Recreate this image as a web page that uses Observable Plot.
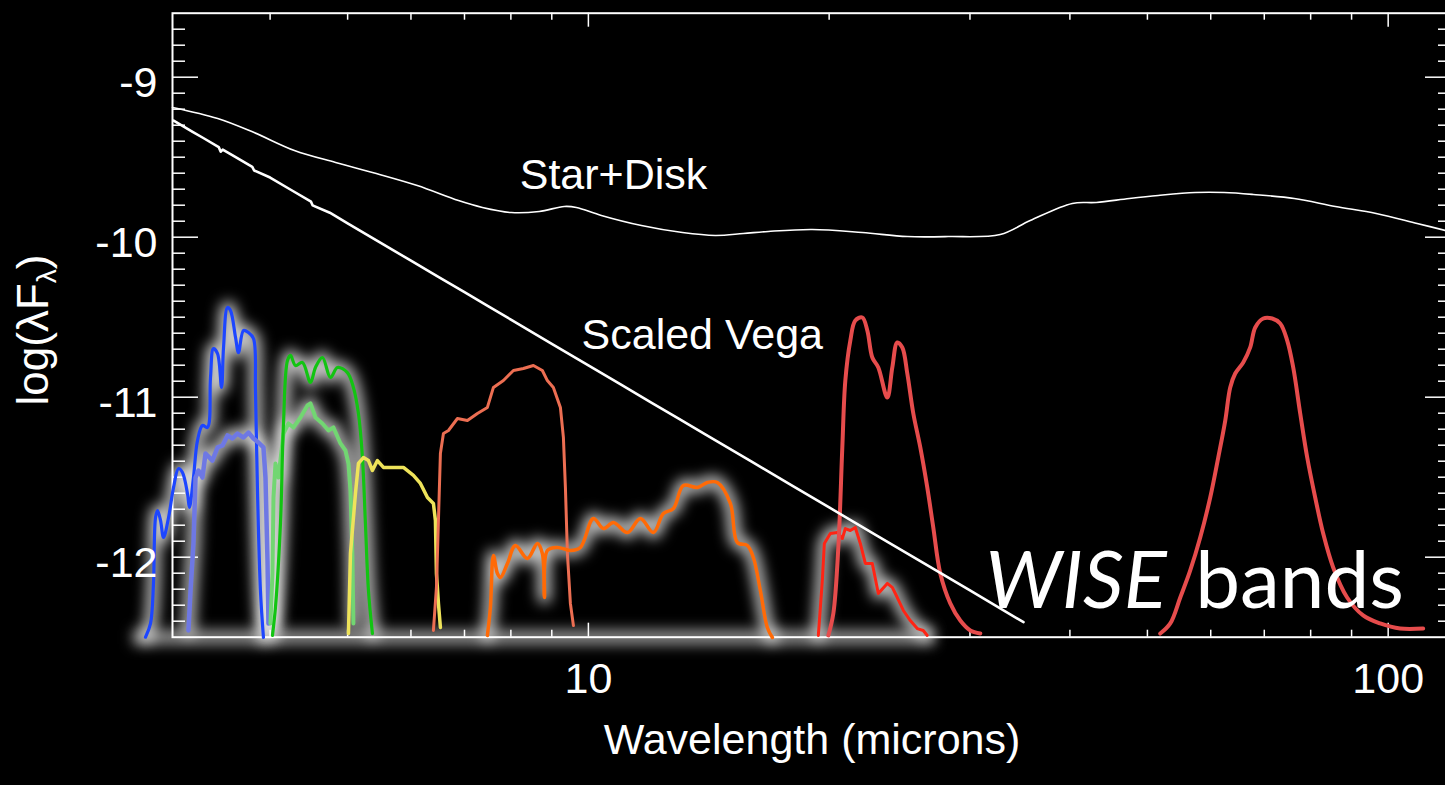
<!DOCTYPE html>
<html>
<head>
<meta charset="utf-8">
<script src="https://cdn.jsdelivr.net/npm/d3@7"></script>
<script src="https://cdn.jsdelivr.net/npm/@observablehq/plot@0.6"></script>
<style>
  html, body { margin: 0; padding: 0; background: #000; overflow: hidden; }
  #chart svg { display: block; }
</style>
</head>
<body>
<div id="chart"></div>
<script>
// ---- Axis ticks ----
const xTickLabels = [10, 100];
const xMinorTicks = [4, 5, 6, 7, 8, 9, 20, 30, 40, 50, 60, 70, 80, 90];
const yTickLabels = [-9, -10, -11, -12];

// ---- Model spectra: wavelength (microns) and log(lambda F_lambda) ----
const starDiskWave = [3.02, 3.44, 3.82, 4.29, 4.83, 5.43, 6.11, 6.88, 7.37, 8.01, 8.68, 9.33, 9.66, 10.38, 11.65, 13.11, 14.41, 15.62, 16.79, 19.05, 22.0, 25.05, 28.18, 32.73, 35.68, 40.27, 43.15, 47.46, 51.58, 57.38, 62.37, 67.8, 76.3, 85.9, 96.6, 108.7, 119.5];
const starDiskFlux = [-9.189, -9.258, -9.346, -9.458, -9.533, -9.602, -9.677, -9.771, -9.814, -9.846, -9.839, -9.808, -9.814, -9.864, -9.927, -9.971, -9.989, -9.977, -9.964, -9.952, -9.971, -9.996, -9.996, -9.983, -9.896, -9.789, -9.783, -9.758, -9.739, -9.721, -9.721, -9.733, -9.758, -9.808, -9.852, -9.914, -9.965];

const vegaWave = [3.03, 3.2, 3.3, 3.45, 3.47, 3.49, 3.6, 3.8, 3.82, 4.0, 4.25, 4.5, 4.52, 4.75, 5.0, 5.5, 6.0, 6.5, 7.0, 7.5, 8.0, 9.0, 10, 11, 12, 13, 14, 16, 18, 20, 23, 26, 30, 35];
const vegaFlux = [-9.271, -9.341, -9.380, -9.437, -9.466, -9.452, -9.492, -9.561, -9.583, -9.627, -9.705, -9.778, -9.801, -9.847, -9.913, -10.035, -10.147, -10.249, -10.344, -10.432, -10.515, -10.666, -10.801, -10.923, -11.035, -11.137, -11.232, -11.403, -11.554, -11.689, -11.868, -12.025, -12.208, -12.406];

// ---- WISE / filter band response curves ----
const blueWave = [2.794, 2.835, 2.859, 2.876, 2.893, 2.918, 2.943, 2.986, 3.029, 3.073, 3.108, 3.153, 3.171, 3.208, 3.245, 3.292, 3.340, 3.369, 3.398, 3.438, 3.478, 3.498, 3.538, 3.569, 3.621, 3.652, 3.705, 3.758, 3.813, 3.835, 3.857, 3.890, 3.924];
const blueFlux = [-12.50, -12.414, -12.164, -11.752, -11.708, -11.771, -11.877, -11.752, -11.564, -11.446, -11.471, -11.602, -11.689, -11.502, -11.271, -11.177, -11.189, -10.877, -10.696, -10.727, -10.939, -10.689, -10.439, -10.458, -10.627, -10.721, -10.583, -10.596, -10.633, -10.958, -11.583, -12.208, -12.502];

const paleBlueWave = [3.162, 3.181, 3.208, 3.227, 3.255, 3.292, 3.321, 3.388, 3.438, 3.488, 3.538, 3.589, 3.641, 3.705, 3.758, 3.813, 3.868, 3.924, 3.947, 3.970, 3.981];
const paleBlueFlux = [-12.458, -12.208, -11.914, -11.502, -11.458, -11.502, -11.352, -11.396, -11.314, -11.302, -11.239, -11.258, -11.227, -11.252, -11.221, -11.258, -11.283, -11.314, -11.502, -12.021, -12.414];

const greenWave = [4.027, 4.062, 4.121, 4.157, 4.205, 4.242, 4.303, 4.390, 4.493, 4.558, 4.650, 4.759, 4.856, 4.997, 5.084, 5.158, 5.218, 5.263, 5.309, 5.370];
const greenFlux = [-12.489, -12.314, -11.789, -11.164, -10.771, -10.739, -10.802, -10.783, -10.908, -10.814, -10.752, -10.877, -10.814, -10.846, -10.939, -11.102, -11.377, -11.789, -12.208, -12.477];

const paleGreenWave = [4.004, 4.027, 4.039, 4.062, 4.097, 4.157, 4.217, 4.278, 4.365, 4.454, 4.493, 4.558, 4.650, 4.732, 4.800, 4.898, 4.969, 5.012, 5.041, 5.070, 5.084];
const paleGreenFlux = [-12.414, -12.102, -11.627, -11.414, -11.502, -11.227, -11.164, -11.189, -11.127, -11.052, -11.039, -11.127, -11.164, -11.208, -11.189, -11.289, -11.333, -11.414, -11.583, -12.002, -12.414];

const yellowWave = [5.012, 5.041, 5.114, 5.158, 5.233, 5.309, 5.370, 5.448, 5.543, 5.705, 5.871, 6.043, 6.166, 6.292, 6.401, 6.438, 6.457, 6.494, 6.531];
const yellowFlux = [-12.477, -11.977, -11.602, -11.414, -11.377, -11.396, -11.458, -11.396, -11.439, -11.439, -11.439, -11.489, -11.539, -11.627, -11.664, -11.771, -12.102, -12.289, -12.439];

const salmonWave = [6.401, 6.457, 6.494, 6.531, 6.588, 6.684, 6.859, 7.059, 7.265, 7.477, 7.608, 7.830, 8.059, 8.294, 8.536, 8.759, 8.886, 9.041, 9.226, 9.306, 9.360, 9.414, 9.495, 9.578];
const salmonFlux = [-12.458, -12.189, -11.771, -11.352, -11.227, -11.208, -11.133, -11.146, -11.102, -11.064, -10.939, -10.896, -10.833, -10.821, -10.802, -10.833, -10.896, -10.939, -11.064, -11.252, -11.564, -11.977, -12.289, -12.427];

const orangeWave = [7.477, 7.542, 7.608, 7.696, 7.763, 7.921, 8.105, 8.389, 8.635, 8.759, 8.811, 8.886, 9.146, 9.495, 9.772, 10.145, 10.442, 10.747, 11.189, 11.615, 12.058, 12.410, 12.773, 13.145, 13.686, 14.085, 14.496, 15.049, 15.355, 15.803, 16.079, 16.406, 16.740, 16.983];
const orangeFlux = [-12.489, -12.314, -11.989, -12.102, -12.127, -12.039, -11.927, -12.008, -11.914, -11.977, -12.252, -11.958, -11.939, -11.958, -11.939, -11.758, -11.821, -11.783, -11.846, -11.758, -11.846, -11.727, -11.696, -11.552, -11.564, -11.533, -11.533, -11.664, -11.908, -11.927, -12.002, -12.208, -12.439, -12.502];

const redWave = [19.387, 19.611, 19.725, 20.068, 20.476, 20.773, 20.954, 21.257, 21.565, 21.878, 22.195, 22.647, 23.041, 23.646, 23.989, 24.336, 24.764, 25.264, 25.775, 26.224, 26.528];
const redFlux = [-12.489, -12.146, -11.914, -11.852, -11.846, -11.883, -11.821, -11.833, -11.814, -11.914, -12.039, -12.039, -12.227, -12.164, -12.189, -12.252, -12.333, -12.396, -12.446, -12.458, -12.489];

const w3Wave = [19.953, 20.242, 20.536, 20.773, 20.954, 21.257, 21.565, 22.004, 22.324, 22.647, 23.041, 23.646, 23.989, 24.336, 24.689, 25.047, 25.484, 26.002, 26.528, 26.992, 27.543, 28.348, 29.175, 30.027, 30.903];
const w3Flux = [-12.489, -12.352, -11.939, -11.314, -10.896, -10.646, -10.521, -10.502, -10.583, -10.752, -10.814, -11.002, -10.814, -10.658, -10.689, -10.852, -11.102, -11.314, -11.564, -11.814, -12.102, -12.289, -12.396, -12.458, -12.477];

const w4Wave = [51.88, 53.40, 54.96, 56.56, 58.21, 59.91, 61.31, 62.56, 63.46, 64.38, 65.88, 67.22, 68.20, 69.79, 71.62, 73.28, 74.78, 76.08, 77.63, 79.21, 81.05, 82.94, 85.36, 88.86, 93.05, 97.72, 103.5, 110.6];
const w4Flux = [-12.477, -12.414, -12.252, -12.083, -11.877, -11.627, -11.377, -11.146, -10.939, -10.852, -10.783, -10.689, -10.564, -10.508, -10.508, -10.539, -10.646, -10.814, -11.102, -11.377, -11.627, -11.852, -12.064, -12.252, -12.364, -12.414, -12.446, -12.446];

// ---- Build point tables ----
const pts = (w, f) => w.map((x, i) => ({x, y: f[i]}));

const bands = [
  {pts: pts(blueWave, blueFlux), color: "#1d46ff", width: 3.2, glow: true, curve: "catmull-rom"},
  {pts: pts(paleBlueWave, paleBlueFlux), color: "#6e78e4", width: 4.5, glow: true, curve: "linear"},
  {pts: pts(paleGreenWave, paleGreenFlux), color: "#72d672", width: 4, glow: true, curve: "linear"},
  {pts: pts(greenWave, greenFlux), color: "#12c412", width: 3.2, glow: true, curve: "catmull-rom"},
  {pts: pts(yellowWave, yellowFlux), color: "#eee35a", width: 3.5, glow: false, curve: "linear"},
  {pts: pts(salmonWave, salmonFlux), color: "#ec6e52", width: 3, glow: false, curve: "linear"},
  {pts: pts(orangeWave, orangeFlux), color: "#ff6a06", width: 3.5, glow: true, curve: "catmull-rom"},
  {pts: pts(redWave, redFlux), color: "#ff2414", width: 3, glow: true, curve: "linear"},
  {pts: pts(w3Wave, w3Flux), color: "#e64c4c", width: 4, glow: false, curve: "catmull-rom"},
  {pts: pts(w4Wave, w4Flux), color: "#e64c4c", width: 4, glow: false, curve: "catmull-rom"}
];

const starDisk = pts(starDiskWave, starDiskFlux);
const vega = pts(vegaWave, vegaFlux);

// ---- Frame geometry ----
const width = 1445, height = 785;
const mLeft = 172, mRight = -6, mTop = 12.7, mBottom = 148.3;
const frameW = width - mRight - mLeft;
const frameH = height - mBottom - mTop;
const yMinorTicks = d3.range(-124, -86).map(v => v / 10).filter(v => !Number.isInteger(v));

const labelFont = "'Liberation Sans', Arial, Helvetica, sans-serif";
const white = "white";
const haloColor = "#fffffe"; // tags the layers that get blurred into a halo

const marks = [
  // soft halo behind the band curves and their baseline
  Plot.ruleY([{y: -12.5, x1: 2.7, x2: 27}], {y: "y", x1: "x1", x2: "x2", stroke: haloColor, strokeWidth: 14, strokeOpacity: 0.6}),
  ...bands.filter(b => b.glow).map(b =>
    Plot.line(b.pts, {x: "x", y: "y", stroke: haloColor, strokeWidth: 12, strokeOpacity: 0.8, curve: b.curve})),

  // frame and inward ticks
  Plot.frame({stroke: white, strokeWidth: 2}),
  Plot.ruleX(xTickLabels, {x: d => d, stroke: white, strokeWidth: 1.5, insetTop: frameH - 14}),
  Plot.ruleX(xMinorTicks, {x: d => d, stroke: white, strokeWidth: 1.5, insetTop: frameH - 7}),
  Plot.ruleX(xTickLabels, {x: d => d, stroke: white, strokeWidth: 1.5, insetBottom: frameH - 14}),
  Plot.ruleX(xMinorTicks, {x: d => d, stroke: white, strokeWidth: 1.5, insetBottom: frameH - 7}),
  Plot.ruleY(yTickLabels, {y: d => d, stroke: white, strokeWidth: 1.5, insetRight: frameW - 26}),
  Plot.ruleY(yMinorTicks, {y: d => d, stroke: white, strokeWidth: 1.5, insetRight: frameW - 13}),
  Plot.ruleY(yTickLabels, {y: d => d, stroke: white, strokeWidth: 1.5, insetLeft: frameW - 26}),
  Plot.ruleY(yMinorTicks, {y: d => d, stroke: white, strokeWidth: 1.5, insetLeft: frameW - 13}),

  // band response curves
  ...bands.map(b => Plot.line(b.pts, {x: "x", y: "y", stroke: b.color, strokeWidth: b.width, curve: b.curve, strokeLinejoin: "round"})),

  // model spectra
  Plot.line(vega, {x: "x", y: "y", stroke: white, strokeWidth: 2.6}),
  Plot.line(starDisk, {x: "x", y: "y", stroke: white, strokeWidth: 1.6, curve: "catmull-rom"}),

  // tick labels and axis title
  Plot.text(xTickLabels, {x: d => d, frameAnchor: "bottom", dy: 56, text: d => String(d), fill: white, fontSize: 43, fontFamily: labelFont}),
  Plot.text(yTickLabels, {y: d => d, frameAnchor: "left", dx: -15, dy: 6, textAnchor: "end", text: d => String(d), fill: white, fontSize: 43, fontFamily: labelFont}),
  Plot.text(["Wavelength (microns)"], {frameAnchor: "bottom", dy: 117, text: d => d, fill: white, fontSize: 43, fontFamily: labelFont}),

  // curve annotations
  Plot.text([{x: 10.75, y: -9.614, t: "Star+Disk"}], {x: "x", y: "y", text: "t", fill: white, fontSize: 43, fontFamily: labelFont}),
  Plot.text([{x: 13.88, y: -10.614, t: "Scaled Vega"}], {x: "x", y: "y", text: "t", fill: white, fontSize: 43, fontFamily: labelFont}),
  Plot.text([{x: 31.35, y: -12.158, t: "WISE"}], {x: "x", y: "y", text: "t", textAnchor: "start", fill: white, fontSize: 80, fontStyle: "italic", fontFamily: "Lato, 'Open Sans', sans-serif"}),
  Plot.text([{x: 57.38, y: -12.158, t: "bands"}], {x: "x", y: "y", text: "t", textAnchor: "start", fill: white, fontSize: 80, fontFamily: "Lato, 'Open Sans', sans-serif"})
];

const chart = Plot.plot({
  width, height,
  marginLeft: mLeft, marginRight: mRight, marginTop: mTop, marginBottom: mBottom,
  style: {background: "black", color: white, fontFamily: labelFont},
  x: {type: "log", domain: [3.02, 120], axis: null},
  y: {domain: [-12.5, -8.6], axis: null},
  marks
});

// Gaussian blur for the halo layers
const svg = d3.select(chart);
svg.insert("defs", ":first-child")
  .append("filter")
    .attr("id", "glow")
    .attr("filterUnits", "userSpaceOnUse")
    .attr("x", 0).attr("y", 0).attr("width", width).attr("height", height)
  .append("feGaussianBlur")
    .attr("stdDeviation", 7);
svg.selectAll("g").filter(function () {
  return (this.getAttribute("stroke") || "").toLowerCase() === haloColor;
}).attr("filter", "url(#glow)");

// Rotated y-axis title with a subscript lambda
const yTitle = svg.append("text")
  .attr("transform", "translate(48,330) rotate(-90)")
  .attr("text-anchor", "middle")
  .attr("fill", white)
  .attr("font-family", labelFont)
  .attr("font-size", 44);
yTitle.append("tspan").text("log(λF");
yTitle.append("tspan").attr("font-size", 28).attr("dy", 8).text("λ");
yTitle.append("tspan").attr("dy", -8).text(")");

document.getElementById("chart").appendChild(chart);
</script>
</body>
</html>
